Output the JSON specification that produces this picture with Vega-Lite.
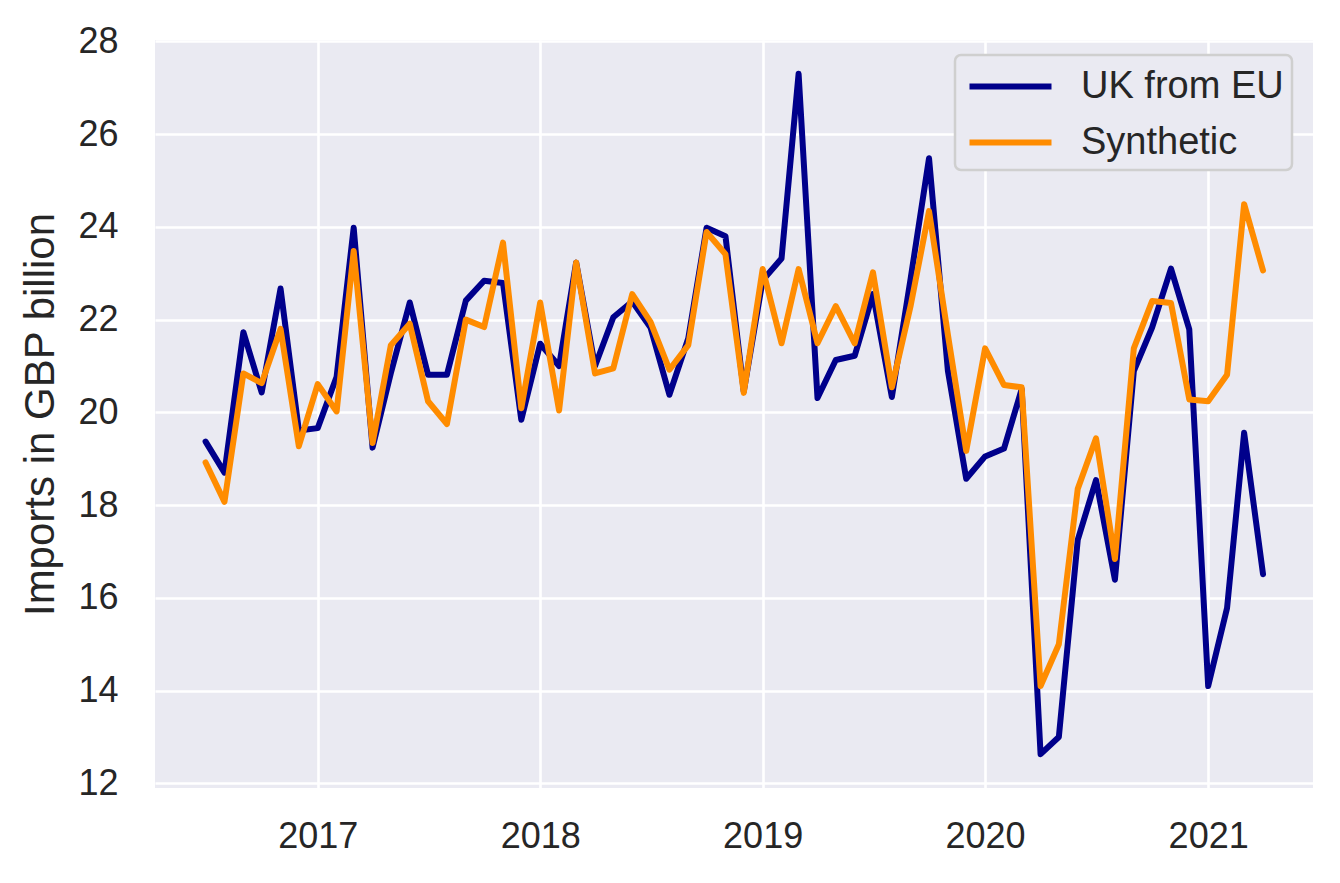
{
  "$schema": "https://vega.github.io/schema/vega-lite/v6.json",
  "width": 1158,
  "height": 748,
  "autosize": {"type": "none"},
  "padding": {"left": 155, "top": 40, "right": 27, "bottom": 95},
  "background": "white",
  "config": {
    "view": {"fill": "#EAEAF2", "stroke": null},
    "font": "Liberation Sans",
    "axis": {
      "domain": false,
      "ticks": false,
      "tickSize": 0,
      "gridColor": "white",
      "gridWidth": 2.6,
      "labelFont": "Liberation Sans",
      "labelFontSize": 36,
      "labelColor": "#262626",
      "titleFont": "Liberation Sans",
      "titleFontWeight": "normal",
      "titleColor": "#262626"
    },
    "legend": {
      "orient": "none",
      "legendX": 800,
      "legendY": 15,
      "symbolType": "M-2,0H2",
      "symbolSize": 1681,
      "symbolStrokeWidth": 6,
      "symbolOffset": 24,
      "labelFont": "Liberation Sans",
      "labelFontSize": 38,
      "labelColor": "#262626",
      "labelLimit": 500,
      "labelOffset": 47,
      "padding": 8,
      "rowPadding": 13,
      "fillColor": "#EAEAF2",
      "strokeColor": "#CFCFCF",
      "strokeWidth": 2.5,
      "cornerRadius": 6
    }
  },
  "data": {
    "values": [
      {"date": "2016-07-01", "series": "UK from EU", "value": 19.37},
      {"date": "2016-08-01", "series": "UK from EU", "value": 18.70},
      {"date": "2016-09-01", "series": "UK from EU", "value": 21.73},
      {"date": "2016-10-01", "series": "UK from EU", "value": 20.43},
      {"date": "2016-11-01", "series": "UK from EU", "value": 22.67},
      {"date": "2016-12-01", "series": "UK from EU", "value": 19.61},
      {"date": "2017-01-01", "series": "UK from EU", "value": 19.66},
      {"date": "2017-02-01", "series": "UK from EU", "value": 20.77},
      {"date": "2017-03-01", "series": "UK from EU", "value": 23.98},
      {"date": "2017-04-01", "series": "UK from EU", "value": 19.24},
      {"date": "2017-05-01", "series": "UK from EU", "value": 20.85},
      {"date": "2017-06-01", "series": "UK from EU", "value": 22.37},
      {"date": "2017-07-01", "series": "UK from EU", "value": 20.81},
      {"date": "2017-08-01", "series": "UK from EU", "value": 20.81},
      {"date": "2017-09-01", "series": "UK from EU", "value": 22.41},
      {"date": "2017-10-01", "series": "UK from EU", "value": 22.84},
      {"date": "2017-11-01", "series": "UK from EU", "value": 22.79},
      {"date": "2017-12-01", "series": "UK from EU", "value": 19.84},
      {"date": "2018-01-01", "series": "UK from EU", "value": 21.48},
      {"date": "2018-02-01", "series": "UK from EU", "value": 21.00},
      {"date": "2018-03-01", "series": "UK from EU", "value": 23.23},
      {"date": "2018-04-01", "series": "UK from EU", "value": 21.00},
      {"date": "2018-05-01", "series": "UK from EU", "value": 22.05},
      {"date": "2018-06-01", "series": "UK from EU", "value": 22.39},
      {"date": "2018-07-01", "series": "UK from EU", "value": 21.83},
      {"date": "2018-08-01", "series": "UK from EU", "value": 20.38},
      {"date": "2018-09-01", "series": "UK from EU", "value": 21.60},
      {"date": "2018-10-01", "series": "UK from EU", "value": 23.98},
      {"date": "2018-11-01", "series": "UK from EU", "value": 23.80},
      {"date": "2018-12-01", "series": "UK from EU", "value": 20.45},
      {"date": "2019-01-01", "series": "UK from EU", "value": 22.85},
      {"date": "2019-02-01", "series": "UK from EU", "value": 23.32},
      {"date": "2019-03-01", "series": "UK from EU", "value": 27.30},
      {"date": "2019-04-01", "series": "UK from EU", "value": 20.31},
      {"date": "2019-05-01", "series": "UK from EU", "value": 21.13},
      {"date": "2019-06-01", "series": "UK from EU", "value": 21.22},
      {"date": "2019-07-01", "series": "UK from EU", "value": 22.55},
      {"date": "2019-08-01", "series": "UK from EU", "value": 20.33},
      {"date": "2019-09-01", "series": "UK from EU", "value": 22.90},
      {"date": "2019-10-01", "series": "UK from EU", "value": 25.48},
      {"date": "2019-11-01", "series": "UK from EU", "value": 20.89},
      {"date": "2019-12-01", "series": "UK from EU", "value": 18.57},
      {"date": "2020-01-01", "series": "UK from EU", "value": 19.05},
      {"date": "2020-02-01", "series": "UK from EU", "value": 19.22},
      {"date": "2020-03-01", "series": "UK from EU", "value": 20.50},
      {"date": "2020-04-01", "series": "UK from EU", "value": 12.63},
      {"date": "2020-05-01", "series": "UK from EU", "value": 13.00},
      {"date": "2020-06-01", "series": "UK from EU", "value": 17.25},
      {"date": "2020-07-01", "series": "UK from EU", "value": 18.54},
      {"date": "2020-08-01", "series": "UK from EU", "value": 16.39},
      {"date": "2020-09-01", "series": "UK from EU", "value": 20.89},
      {"date": "2020-10-01", "series": "UK from EU", "value": 21.83},
      {"date": "2020-11-01", "series": "UK from EU", "value": 23.10},
      {"date": "2020-12-01", "series": "UK from EU", "value": 21.79},
      {"date": "2021-01-01", "series": "UK from EU", "value": 14.10},
      {"date": "2021-02-01", "series": "UK from EU", "value": 15.78},
      {"date": "2021-03-01", "series": "UK from EU", "value": 19.56},
      {"date": "2021-04-01", "series": "UK from EU", "value": 16.51},
      {"date": "2016-07-01", "series": "Synthetic", "value": 18.92},
      {"date": "2016-08-01", "series": "Synthetic", "value": 18.07},
      {"date": "2016-09-01", "series": "Synthetic", "value": 20.84},
      {"date": "2016-10-01", "series": "Synthetic", "value": 20.63},
      {"date": "2016-11-01", "series": "Synthetic", "value": 21.80},
      {"date": "2016-12-01", "series": "Synthetic", "value": 19.27},
      {"date": "2017-01-01", "series": "Synthetic", "value": 20.61},
      {"date": "2017-02-01", "series": "Synthetic", "value": 20.02},
      {"date": "2017-03-01", "series": "Synthetic", "value": 23.48},
      {"date": "2017-04-01", "series": "Synthetic", "value": 19.34},
      {"date": "2017-05-01", "series": "Synthetic", "value": 21.45},
      {"date": "2017-06-01", "series": "Synthetic", "value": 21.91},
      {"date": "2017-07-01", "series": "Synthetic", "value": 20.24},
      {"date": "2017-08-01", "series": "Synthetic", "value": 19.75},
      {"date": "2017-09-01", "series": "Synthetic", "value": 22.00},
      {"date": "2017-10-01", "series": "Synthetic", "value": 21.84},
      {"date": "2017-11-01", "series": "Synthetic", "value": 23.66},
      {"date": "2017-12-01", "series": "Synthetic", "value": 20.09},
      {"date": "2018-01-01", "series": "Synthetic", "value": 22.37},
      {"date": "2018-02-01", "series": "Synthetic", "value": 20.04},
      {"date": "2018-03-01", "series": "Synthetic", "value": 23.23},
      {"date": "2018-04-01", "series": "Synthetic", "value": 20.84},
      {"date": "2018-05-01", "series": "Synthetic", "value": 20.95},
      {"date": "2018-06-01", "series": "Synthetic", "value": 22.55},
      {"date": "2018-07-01", "series": "Synthetic", "value": 21.95},
      {"date": "2018-08-01", "series": "Synthetic", "value": 20.92},
      {"date": "2018-09-01", "series": "Synthetic", "value": 21.45},
      {"date": "2018-10-01", "series": "Synthetic", "value": 23.89},
      {"date": "2018-11-01", "series": "Synthetic", "value": 23.41},
      {"date": "2018-12-01", "series": "Synthetic", "value": 20.42},
      {"date": "2019-01-01", "series": "Synthetic", "value": 23.09},
      {"date": "2019-02-01", "series": "Synthetic", "value": 21.49},
      {"date": "2019-03-01", "series": "Synthetic", "value": 23.09},
      {"date": "2019-04-01", "series": "Synthetic", "value": 21.49},
      {"date": "2019-05-01", "series": "Synthetic", "value": 22.29},
      {"date": "2019-06-01", "series": "Synthetic", "value": 21.49},
      {"date": "2019-07-01", "series": "Synthetic", "value": 23.02},
      {"date": "2019-08-01", "series": "Synthetic", "value": 20.54},
      {"date": "2019-09-01", "series": "Synthetic", "value": 22.31},
      {"date": "2019-10-01", "series": "Synthetic", "value": 24.34},
      {"date": "2019-11-01", "series": "Synthetic", "value": 21.67},
      {"date": "2019-12-01", "series": "Synthetic", "value": 19.17},
      {"date": "2020-01-01", "series": "Synthetic", "value": 21.38},
      {"date": "2020-02-01", "series": "Synthetic", "value": 20.59},
      {"date": "2020-03-01", "series": "Synthetic", "value": 20.54},
      {"date": "2020-04-01", "series": "Synthetic", "value": 14.10},
      {"date": "2020-05-01", "series": "Synthetic", "value": 15.00},
      {"date": "2020-06-01", "series": "Synthetic", "value": 18.35},
      {"date": "2020-07-01", "series": "Synthetic", "value": 19.44},
      {"date": "2020-08-01", "series": "Synthetic", "value": 16.84},
      {"date": "2020-09-01", "series": "Synthetic", "value": 21.38},
      {"date": "2020-10-01", "series": "Synthetic", "value": 22.40},
      {"date": "2020-11-01", "series": "Synthetic", "value": 22.36},
      {"date": "2020-12-01", "series": "Synthetic", "value": 20.28},
      {"date": "2021-01-01", "series": "Synthetic", "value": 20.24},
      {"date": "2021-02-01", "series": "Synthetic", "value": 20.81},
      {"date": "2021-03-01", "series": "Synthetic", "value": 24.49},
      {"date": "2021-04-01", "series": "Synthetic", "value": 23.06}
    ]
  },
  "mark": {"type": "line", "strokeWidth": 6, "strokeJoin": "round", "strokeCap": "round", "clip": true},
  "encoding": {
    "x": {
      "field": "date",
      "type": "temporal",
      "scale": {
        "type": "utc",
        "domain": [
          {"year": 2016, "month": 4, "date": 9, "utc": true},
          {"year": 2021, "month": 6, "date": 22, "utc": true}
        ]
      },
      "axis": {
        "title": null,
        "format": "%Y",
        "labelPadding": 31,
        "values": [
          {"year": 2017, "month": 1, "date": 1, "utc": true},
          {"year": 2018, "month": 1, "date": 1, "utc": true},
          {"year": 2019, "month": 1, "date": 1, "utc": true},
          {"year": 2020, "month": 1, "date": 1, "utc": true},
          {"year": 2021, "month": 1, "date": 1, "utc": true}
        ]
      }
    },
    "y": {
      "field": "value",
      "type": "quantitative",
      "scale": {"domain": [11.9, 28.03], "nice": false, "zero": false},
      "axis": {
        "title": "Imports in GBP billion",
        "titleFontSize": 42,
        "titlePadding": 15,
        "labelPadding": 37,
        "values": [12, 14, 16, 18, 20, 22, 24, 26, 28]
      }
    },
    "color": {
      "field": "series",
      "type": "nominal",
      "scale": {"domain": ["UK from EU", "Synthetic"], "range": ["#00008B", "#FF8C00"]},
      "legend": {"title": null}
    },
    "order": {"field": "date", "type": "temporal"}
  }
}
